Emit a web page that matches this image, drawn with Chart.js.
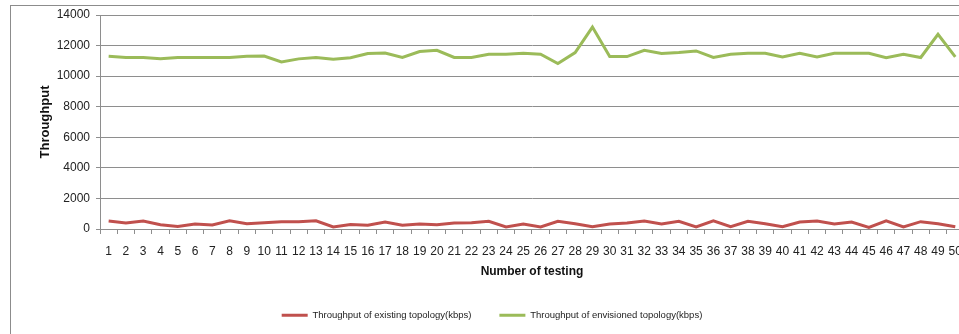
<!DOCTYPE html>
<html lang="en">
<head>
  <meta charset="UTF-8">
  <title>Throughput per test</title>
  <script src="https://cdn.jsdelivr.net/npm/chart.js"></script>
  <style>
    html, body {
      margin: 0;
      background: #fff;
      overflow: hidden;
    }
    #wrap {
      position: relative;
      width: 972px;
      height: 334px;
    }
    #frame {
      position: absolute;
      left: 10px;
      top: 5px;
      width: 1000px;
      height: 400px;
      border-left: 1px solid #8c8c8c;
      border-top: 1px solid #8c8c8c;
    }
    canvas {
      position: absolute;
      left: 0;
      top: 0;
    }
  </style>
</head>
<body>
  <div id="wrap">
    <div id="frame"></div>
    <canvas id="tpChart" width="972" height="334"></canvas>
  </div>

  <script>
    const testNumbers = Array.from({ length: 50 }, (_, i) => String(i + 1));

    const existingKbps = [
      520, 390, 520, 280, 170, 330, 260, 540, 350, 410,
      480, 480, 540, 130, 300, 240, 460, 240, 330, 280,
      390, 410, 500, 130, 330, 130, 500, 350, 150, 330,
      390, 520, 330, 500, 130, 540, 150, 500, 350, 150,
      460, 520, 330, 460, 110, 540, 130, 480, 350, 150
    ];

    const envisionedKbps = [
      11300, 11220, 11220, 11130, 11220, 11220, 11220, 11220, 11300, 11320,
      10930, 11130, 11220, 11110, 11200, 11480, 11510, 11220, 11610, 11690,
      11220, 11220, 11430, 11430, 11500, 11430, 10830, 11540, 13210, 11280,
      11280, 11690, 11480, 11540, 11650, 11220, 11430, 11500, 11500, 11260,
      11500, 11260, 11500, 11500, 11500, 11200, 11430, 11220, 12740, 11260
    ];

    const yTicks = { min: 0, max: 14000, step: 2000 };

    const gridGray = '#8e8e8e';
    const fontFamily = '"Liberation Sans", Arial, sans-serif';

    const ctx = document.getElementById('tpChart').getContext('2d');

    const tpChart = new Chart(ctx, {
      type: 'line',
      data: {
        labels: testNumbers,
        datasets: [{
          label: 'Throughput of existing topology(kbps)',
          data: existingKbps,
          borderColor: '#C0504D',
          backgroundColor: '#C0504D',
          borderWidth: 3,
          pointRadius: 0,
          tension: 0
        }, {
          label: 'Throughput of envisioned topology(kbps)',
          data: envisionedKbps,
          borderColor: '#9BBB59',
          backgroundColor: '#9BBB59',
          borderWidth: 3,
          pointRadius: 0,
          tension: 0
        }]
      },
      options: {
        responsive: false,
        animation: false,
        devicePixelRatio: 1,
        layout: {
          padding: { left: 16, right: 4, top: 15, bottom: 4 }
        },
        scales: {
          x: {
            offset: true,
            grid: {
              offset: true,
              drawOnChartArea: false,
              drawTicks: true,
              tickLength: 5,
              color: gridGray
            },
            border: { color: gridGray },
            ticks: {
              autoSkip: false,
              maxRotation: 0,
              padding: 10,
              color: '#222',
              font: { family: fontFamily, size: 12 }
            },
            title: {
              display: true,
              text: 'Number of testing',
              color: '#111',
              padding: { top: 0, bottom: 4 },
              font: { family: fontFamily, size: 12, weight: 'bold' }
            },
            afterFit: (scale) => { scale.height = 53.5; }
          },
          y: {
            min: yTicks.min,
            max: yTicks.max,
            grid: {
              color: gridGray,
              tickLength: 4
            },
            border: { color: gridGray },
            ticks: {
              stepSize: yTicks.step,
              padding: 6,
              color: '#222',
              font: { family: fontFamily, size: 12 },
              callback: (v) => String(v)
            },
            title: {
              display: true,
              text: 'Throughput',
              color: '#111',
              padding: { top: 22, bottom: 0 },
              font: { family: fontFamily, size: 13, weight: 'bold' }
            },
            afterFit: (scale) => { scale.width = 84; }
          }
        },
        plugins: {
          legend: {
            position: 'bottom',
            labels: {
              boxWidth: 26,
              boxHeight: 3,
              padding: 28,
              color: '#222',
              font: { family: fontFamily, size: 9.5 },
              generateLabels: (chart) => {
                const items = Chart.defaults.plugins.legend.labels.generateLabels(chart);
                items.forEach(item => { item.lineWidth = 0; });
                return items;
              }
            }
          },
          tooltip: { enabled: false }
        }
      }
    });
  </script>
</body>
</html>
